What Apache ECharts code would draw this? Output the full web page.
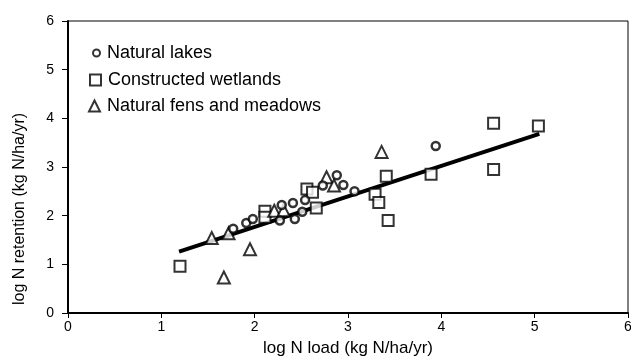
<!DOCTYPE html>
<html>
<head>
<meta charset="utf-8">
<script src="https://cdn.jsdelivr.net/npm/echarts@6/dist/echarts.min.js"></script>
<style>
  html, body { margin: 0; padding: 0; background: #fff; }
  #main { width: 631px; height: 358px; }
</style>
</head>
<body>
<div id="main"></div>
<script>
// values: [log N load, log N retention]
var lakes = [
  [1.77, 1.73], [1.91, 1.85], [1.98, 1.93], [2.27, 1.90], [2.29, 2.22],
  [2.41, 2.26], [2.43, 1.93], [2.51, 2.08], [2.54, 2.32], [2.73, 2.62],
  [2.88, 2.83], [2.95, 2.63], [3.07, 2.50], [3.94, 3.43]
];
var wetlands = [
  [1.20, 0.96], [2.11, 2.09], [2.11, 1.97], [2.56, 2.55], [2.62, 2.48],
  [2.66, 2.16], [3.29, 2.44], [3.33, 2.27], [3.41, 2.81], [3.43, 1.90],
  [3.89, 2.85], [4.56, 3.90], [4.56, 2.95], [5.04, 3.84]
];
var fens = [
  [1.54, 1.54], [1.67, 0.73], [1.72, 1.64], [1.95, 1.31], [2.21, 2.10],
  [2.31, 2.11], [2.77, 2.79], [2.85, 2.62], [3.36, 3.31]
];
// regression line end points
var fitLine = [[1.19, 1.26], [5.05, 3.68]];

var xName = 'log N load (kg N/ha/yr)';
var yName = 'log N retention (kg N/ha/yr)';
var seriesNames = ['Natural lakes', 'Constructed wetlands', 'Natural fens and meadows'];

var chart = echarts.init(document.getElementById('main'));

var font = 'Liberation Sans, Arial, sans-serif';
var markStyle = { color: '#fff', borderColor: '#000', borderWidth: 2 };

// one legend per entry so each icon can have its own size / spot
function legendEntry(name, icon, size, left, top, padLeft) {
  return {
    orient: 'vertical',
    left: left,
    top: top,
    padding: 0,
    itemWidth: size,
    itemHeight: size,
    selectedMode: false,
    textStyle: {
      fontFamily: font, fontSize: 18, color: '#000',
      verticalAlign: 'bottom', lineHeight: 6, padding: [0, 0, 0, padLeft]
    },
    data: [{ name: name, icon: icon }]
  };
}

chart.setOption({
  backgroundColor: '#fff',
  animation: false,
  textStyle: { fontFamily: font, color: '#000' },
  grid: {
    left: 68, right: 3, top: 21, bottom: 45,
    outerBoundsMode: 'none',
    show: true, borderColor: '#000', borderWidth: 1
  },
  legend: [
    legendEntry(seriesNames[0], 'circle', 7, 92, 44, 2),
    legendEntry(seriesNames[1], 'rect', 11, 89, 71, 2),
    legendEntry(seriesNames[2], 'triangle', 11, 88, 97, 2)
  ],
  xAxis: {
    type: 'value', min: 0, max: 6, interval: 1,
    name: xName, nameLocation: 'middle', nameGap: 27,
    nameTextStyle: { fontSize: 17, fontFamily: font, color: '#000' },
    splitLine: { show: false },
    axisLine: { onZero: false, lineStyle: { color: '#000', width: 2 } },
    axisTick: { length: 5, lineStyle: { color: '#000' } },
    axisLabel: { fontSize: 14, color: '#000', margin: 7 }
  },
  yAxis: {
    type: 'value', min: 0, max: 6, interval: 1,
    name: yName, nameLocation: 'middle', nameGap: 40,
    nameTextStyle: { fontSize: 16, fontFamily: font, color: '#000', padding: [0, 84, 0, 0] },
    splitLine: { show: false },
    axisLine: { show: true, onZero: false, lineStyle: { color: '#000', width: 2 } },
    axisTick: { show: true, length: 6, lineStyle: { color: '#000' } },
    axisLabel: { fontSize: 14, color: '#000', margin: 14 }
  },
  series: [
    {
      name: 'fit', type: 'line', data: fitLine, symbol: 'none',
      lineStyle: { color: '#000', width: 4 }, z: 1
    },
    {
      name: seriesNames[0], type: 'scatter', data: lakes,
      symbol: 'circle', symbolSize: 8, itemStyle: { color: '#fff', borderColor: '#000', borderWidth: 2.5 }, z: 4
    },
    {
      name: seriesNames[1], type: 'scatter', data: wetlands,
      symbol: 'rect', symbolSize: 11, itemStyle: markStyle, z: 3
    },
    {
      name: seriesNames[2], type: 'scatter', data: fens,
      symbol: 'triangle', symbolSize: 12, itemStyle: markStyle, z: 3
    }
  ]
});
</script>
</body>
</html>
